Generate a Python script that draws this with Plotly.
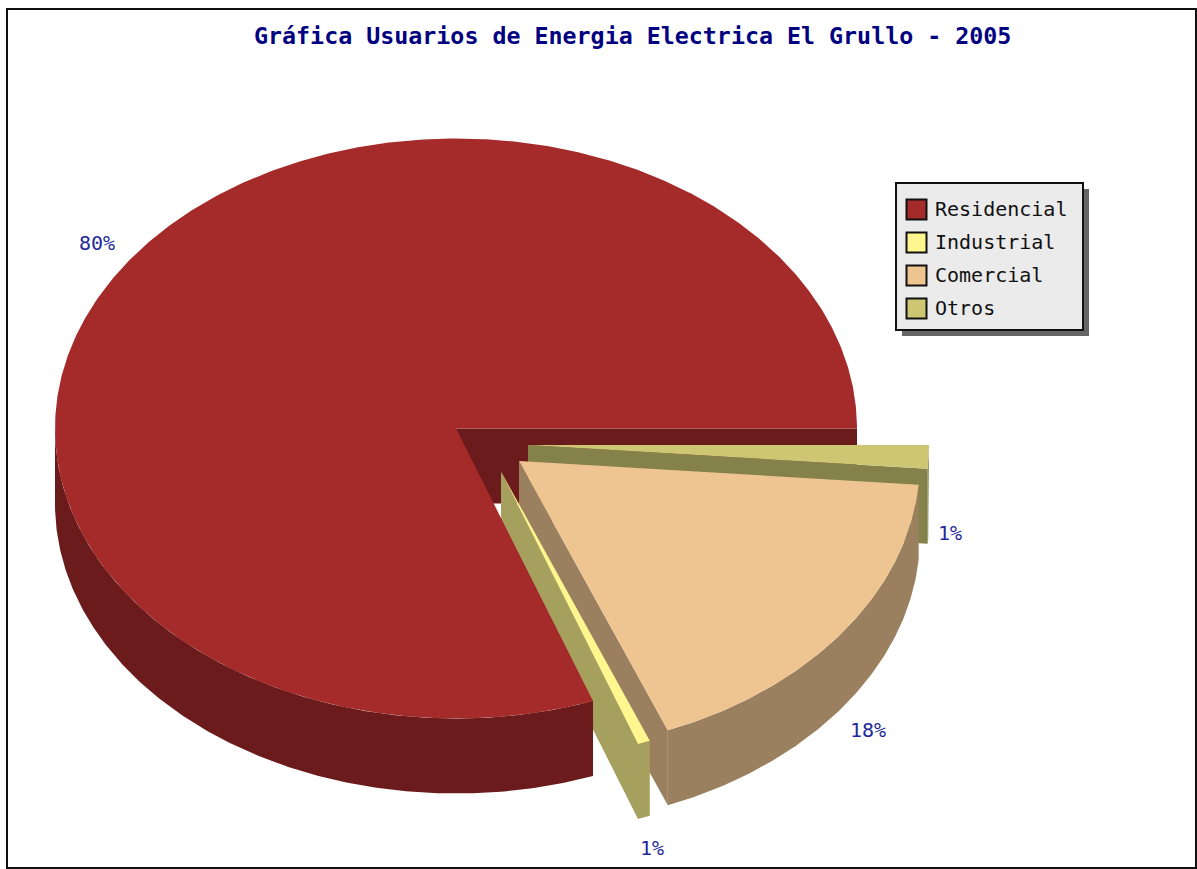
import numpy as np
import plotly.graph_objects as go

# ---- data ----
categories = ["Residencial", "Industrial", "Comercial", "Otros"]
values = [80.55, 0.50, 17.64, 1.31]
percent_labels = ["80%", "1%", "18%", "1%"]
title_text = "Gráfica Usuarios de Energia Electrica El Grullo - 2005"

# ---- styling / layout ----
top_colors = ["#A52A2A", "#FFF68F", "#EEC591", "#CDC673"]
side_colors = ["#6B1B1B", "#A5A05D", "#9A805E", "#85814B"]
explode_dx = [0, 45, 63, 72]
explode_dy = [0, 43, 32.5, 16.5]
label_radius = [1.08, 1.09, 1.09, 1.055]
label_dx = [-4, -5, -3, -1]
label_dy = [-6, 6, 6, 0]
CX, CY, RX, RY, DEPTH = 456, 428.5, 401, 290, 75
W, H = 1197, 869
TEXT_BLUE = "#1E2A9A"

total = sum(values)
edges = np.concatenate([[0], np.cumsum(values)]) / total * 360


def pt(ang, ax, ay, dy=0):
    a = np.radians(ang)
    return ax + RX * np.cos(a), ay - RY * np.sin(a) + dy


def poly(xs, ys, color, name):
    return go.Scatter(x=list(xs), y=list(ys), mode="lines", fill="toself", fillcolor=color,
                      line=dict(width=0, color=color), name=name, hoverinfo="name", showlegend=False)


def arc(a0, a1):
    return np.linspace(a0, a1, max(int((a1 - a0) * 2), 2) + 1)


def start_wall(i):
    ax, ay = CX + explode_dx[i], CY + explode_dy[i]
    ex, ey = pt(edges[i], ax, ay)
    return poly([ax, ax, ex, ex], [ay, ay + DEPTH, ey + DEPTH, ey], side_colors[i], categories[i])


def outer_wall(i):
    ax, ay = CX + explode_dx[i], CY + explode_dy[i]
    a0, a1 = max(edges[i], 180), edges[i + 1]
    t = arc(a0, a1)
    x, y = pt(t, ax, ay)
    return poly(np.r_[x, x[::-1]], np.r_[y, y[::-1] + DEPTH], side_colors[i], categories[i])


def top_face(i):
    ax, ay = CX + explode_dx[i], CY + explode_dy[i]
    t = arc(edges[i], edges[i + 1])
    x, y = pt(t, ax, ay)
    return poly(np.r_[ax, x], np.r_[ay, y], top_colors[i], categories[i])


fig = go.Figure()
fig.add_trace(start_wall(0))
for i in [3, 2, 1]:
    fig.add_trace(start_wall(i))
    fig.add_trace(outer_wall(i))
    fig.add_trace(top_face(i))
fig.add_trace(outer_wall(0))
fig.add_trace(top_face(0))

# slice percentage labels
for i, lab in enumerate(percent_labels):
    mid = (edges[i] + edges[i + 1]) / 2
    ax, ay = CX + explode_dx[i], CY + explode_dy[i]
    a = np.radians(mid)
    lx = ax + label_radius[i] * RX * np.cos(a) + label_dx[i]
    ly = ay - label_radius[i] * RY * np.sin(a) + (DEPTH if np.sin(a) < 0 else 0) + label_dy[i]
    fig.add_annotation(x=lx, y=ly, text=lab, showarrow=False, xanchor="center", yanchor="middle",
                       font=dict(family="DejaVu Sans Mono", size=20, color=TEXT_BLUE))

# legend
LEG_X0, LEG_Y0, LEG_X1, LEG_Y1 = 896, 183, 1083, 330
SHADOW = 6
shapes = [
    dict(type="rect", x0=7, y0=9, x1=1196, y1=868, line=dict(color="#111111", width=2),
         fillcolor="rgba(0,0,0,0)", layer="below"),
    dict(type="rect", x0=LEG_X0 + SHADOW, y0=LEG_Y0 + SHADOW, x1=LEG_X1 + SHADOW, y1=LEG_Y1 + SHADOW,
         line=dict(width=0), fillcolor="#666666", layer="below"),
    dict(type="rect", x0=LEG_X0, y0=LEG_Y0, x1=LEG_X1, y1=LEG_Y1,
         line=dict(color="#111111", width=2), fillcolor="#EBEBEB", layer="below"),
]
for i, cat in enumerate(categories):
    ly = 209.5 + 33 * i
    fig.add_trace(go.Scatter(x=[916.5], y=[ly], mode="markers", name=cat, showlegend=False,
                             marker=dict(symbol="square", size=20, color=top_colors[i],
                                         line=dict(color="#111111", width=2)),
                             hoverinfo="name"))
    fig.add_annotation(x=932.5, y=ly - 1, text=cat, showarrow=False, xanchor="left", yanchor="middle",
                       font=dict(family="DejaVu Sans Mono", size=20, color="#111111"))

fig.add_annotation(x=632, y=35, text="<b>%s</b>" % title_text, showarrow=False,
                   xanchor="center", yanchor="middle",
                   font=dict(family="DejaVu Sans Mono", size=23.3, color="#000080"))

fig.update_layout(
    width=W, height=H, margin=dict(l=0, r=0, t=0, b=0, pad=0),
    paper_bgcolor="white", plot_bgcolor="white", showlegend=False, shapes=shapes,
    xaxis=dict(range=[0, W], visible=False, fixedrange=True),
    yaxis=dict(range=[H, 0], visible=False, fixedrange=True),
)

fig.write_html("out.html", config={"displayModeBar": False},
               post_script="document.body.style.margin='0';document.body.style.overflow='hidden';")
